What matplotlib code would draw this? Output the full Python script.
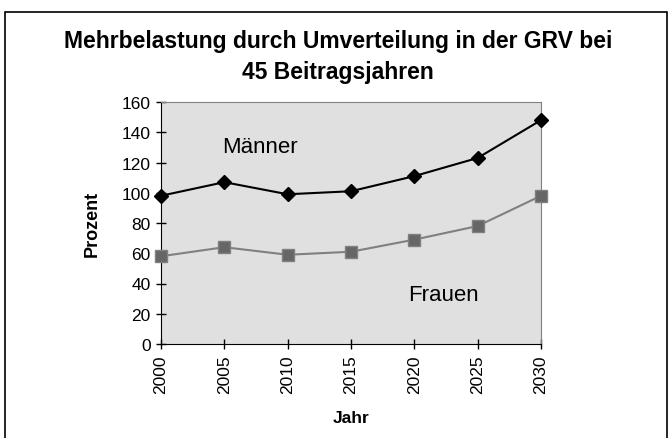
import numpy as np
import matplotlib.pyplot as plt
from matplotlib.patches import Rectangle

plt.rcParams['font.family'] = ['Liberation Sans', 'DejaVu Sans']

jahre = [2000, 2005, 2010, 2015, 2020, 2025, 2030]
maenner = [98, 107, 99, 101, 111, 123, 148]
frauen = [58, 64, 59, 61, 69, 78, 98]
yticks = [0, 20, 40, 60, 80, 100, 120, 140, 160]

fig = plt.figure(figsize=(6.69, 4.39), dpi=100)
# outer chart frame
fig.patches.append(Rectangle((5 / 669, -0.05), 662 / 669, 1.05 - 13 / 439,
                             transform=fig.transFigure, fill=False,
                             edgecolor='black', linewidth=1.2))

ax = fig.add_axes([161 / 669, 1 - 345 / 439, 380 / 669, 242 / 439])
ax.set_facecolor('#e0e0e0')

ax.plot(jahre, maenner, color='black', linewidth=1.5, marker='D',
        markersize=7, markerfacecolor='black', markeredgecolor='black',
        clip_on=False, zorder=3)
ax.plot(jahre, frauen, color='#808080', linewidth=1.5, marker='s',
        markersize=8.5, markerfacecolor='#666666', markeredgecolor='#808080',
        clip_on=False, zorder=3)

ax.set_xlim(2000, 2030)
ax.set_ylim(0, 160)
ax.set_xticks(jahre)
ax.set_xticklabels([str(j) for j in jahre], rotation=90, fontsize=12.5)
ax.set_yticks(yticks)
ax.set_yticklabels([str(v) for v in yticks], fontsize=12.5)
ax.tick_params(axis='both', direction='inout', length=7, width=1, pad=4)

for s in ['top', 'right']:
    ax.spines[s].set_color('#808080')
for s in ['left', 'bottom']:
    ax.spines[s].set_color('black')

ax.text(2004.8, 127, 'Männer', fontsize=16, va='baseline')
ax.text(2019.5, 29, 'Frauen', fontsize=16, va='baseline')

ax.set_xlabel('Jahr', fontsize=12.5, fontweight='bold', labelpad=12)
ax.set_ylabel('Prozent', fontsize=13, fontweight='bold', labelpad=15)

fig.text(0.505, 1 - 57 / 439,
         'Mehrbelastung durch Umverteilung in der GRV bei\n45 Beitragsjahren',
         ha='center', va='center', fontsize=16.5, fontweight='bold',
         linespacing=1.4)

fig.savefig('out.png', dpi=100)
